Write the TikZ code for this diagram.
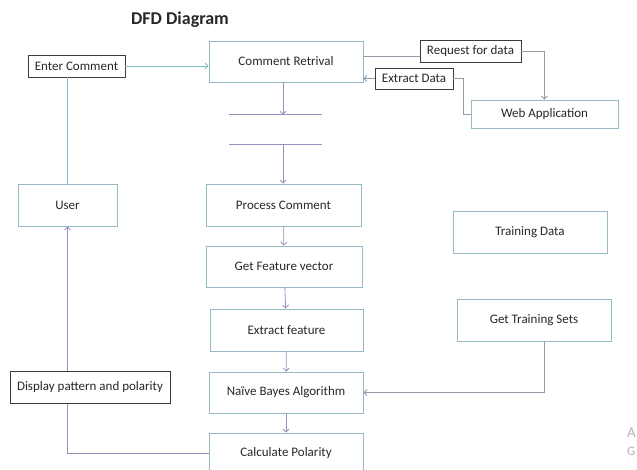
\documentclass[tikz,border=0pt]{standalone}
\usepackage{fontspec}
\setmainfont{Carlito}
\usetikzlibrary{arrows.meta,positioning,calc}
\definecolor{boxline}{RGB}{150,185,195}
\definecolor{tealline}{RGB}{125,190,200}
\definecolor{violetline}{RGB}{160,140,190}
\definecolor{grayline}{RGB}{150,155,170}
\definecolor{darkline}{RGB}{60,60,60}
\definecolor{txt}{RGB}{40,40,40}
\tikzset{%
  % boxes
  proc/.style={draw=boxline, line width=0.8pt, fill=white, text=txt, font=\fontsize{13}{15}\selectfont, inner sep=2pt},
  flow/.style={draw=darkline, line width=0.8pt, fill=white, text=txt, font=\fontsize{13}{15}\selectfont, inner sep=2pt},
  % edge styles
  tealarrow/.style={-{Straight Barb[length=3pt,width=6pt]}, draw=tealline, line width=0.8pt},
  violarrow/.style={-{Straight Barb[length=3pt,width=6pt]}, draw=violetline, line width=0.8pt},
  grayarrow/.style={-{Straight Barb[length=3pt,width=6pt]}, draw=grayline, line width=0.8pt},
}
\begin{document}
\begin{tikzpicture}[x=1pt, y=-1pt]
  \useasboundingbox (0,0) rectangle (637,470);

  \node[font=\fontsize{18}{20}\selectfont\bfseries, text=txt] (title) at (180,20) {DFD Diagram};

  % left side
  \node[flow, minimum width=97pt, minimum height=22pt] (enter) at (76.5,66) {Enter Comment};
  \node[proc, minimum width=99pt, minimum height=42pt] (user) at (67.5,205) {User};

  % main column
  \node[proc, minimum width=154pt, minimum height=41pt] (retr) at (286,61.5) {Comment Retrival};
  \node[minimum width=93pt, minimum height=29pt, inner sep=0pt] (store) at (275.5,129.5) {};
  \node[proc, minimum width=155pt, minimum height=42pt] (pcom) at (283.5,205) {Process Comment};
  \node[proc, minimum width=156pt, minimum height=41pt] (fvec) at (284,266.5) {Get Feature vector};
  \node[proc, minimum width=153pt, minimum height=42pt] (xfeat) at (286.5,330) {Extract feature};
  \node[proc, minimum width=154pt, minimum height=41pt] (bayes) at (286,392.5) {Naïve Bayes Algorithm};
  \node[proc, minimum width=154pt, minimum height=40pt] (polar) at (286,453) {Calculate Polarity};

  % right side
  \node[flow, minimum width=101pt, minimum height=22pt] (req) at (470.5,51) {Request for data};
  \node[flow, minimum width=78pt, minimum height=21pt] (xdata) at (414,78.5) {Extract Data};
  \node[proc, minimum width=147pt, minimum height=28pt] (web) at (544.5,114) {Web Application};
  \node[proc, minimum width=154pt, minimum height=42pt] (train) at (530,232) {Training Data};
  \node[proc, minimum width=154pt, minimum height=42pt] (sets) at (534,320) {Get Training Sets};

  % data store
  \draw[violetline, line width=0.8pt] (store.north west) -- (store.north east);
  \draw[violetline, line width=0.8pt] (store.south west) -- (store.south east);

  % flows
  \draw[tealarrow] (enter.east) -- (enter.east -| retr.west);
  \draw[tealline, line width=0.8pt] (user.north |- enter.south) -- (user.north);
  \draw[grayline, line width=0.8pt] ($(req.west -| retr.east)+(0,5)$) -- ($(req.west)+(0,5)$);
  \draw[grayarrow] (req.east) -| (web.north);
  \draw[grayarrow] (xdata.west) -- (xdata.west -| retr.east);
  \draw[grayline, line width=0.8pt] (xdata.east) -- ++(10,0) |- (web.west);
  \draw[violarrow] ($(retr.south)+(-3,0)$) -- ($(retr.south |- store.north)+(-3,0)$);
  \draw[violarrow] ($(retr.south |- store.south)+(-3,0)$) -- ($(retr.south |- pcom.north)+(-3,0)$);
  \draw[violarrow] (pcom) -- (fvec);
  \draw[violarrow] (fvec) -- (xfeat);
  \draw[violarrow] (xfeat) -- (bayes);
  \draw[violarrow] (bayes) -- (polar);
  \draw[grayarrow] ($(sets.south)+(10,0)$) |- (bayes.east);
  \draw[violarrow] (polar.west) -| (user.south);

  \node[flow, minimum width=160pt, minimum height=32pt] (disp) at (90,387) {Display pattern and polarity};

  % corner marks
  \node[anchor=west, text=black!30, font=\fontsize{15}{17}\selectfont, inner sep=0pt] (wa) at (627,433) {A};
  \node[anchor=west, text=black!30, font=\fontsize{13}{15}\selectfont, inner sep=0pt] (wg) at (627,451) {G};
\end{tikzpicture}
\end{document}
